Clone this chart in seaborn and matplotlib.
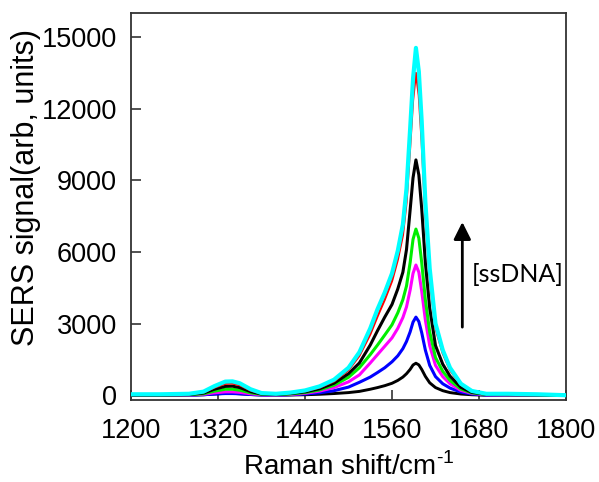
import matplotlib
matplotlib.use("Agg")
import matplotlib.pyplot as plt
import seaborn as sns
import pandas as pd

# Raman shift axis (cm^-1) at which the spectra are tabulated
shift = [1200, 1240, 1280, 1300, 1315, 1330, 1340, 1350, 1365, 1380,
         1400, 1420, 1440, 1460, 1480, 1500, 1515, 1530, 1540, 1550,
         1560, 1568, 1575, 1580, 1585, 1589, 1593, 1597, 1601, 1606,
         1612, 1620, 1630, 1640, 1655, 1670, 1690, 1720, 1760, 1800]

# SERS spectra for increasing ssDNA concentration (lowest first)
spec_1 = [0, 0, 0, 20, 50, 80, 80, 60, 30, 10,
          0, 10, 20, 40, 70, 110, 160, 250, 320, 400,
          500, 620, 760, 900, 1080, 1265, 1340, 1270, 1080, 790,
          520, 320, 190, 110, 50, 20, 0, 0, 0, -10]
spec_2 = [0, 0, 5, 20, 50, 70, 70, 60, 30, 10,
          5, 20, 50, 100, 190, 340, 540, 760, 950, 1150,
          1400, 1650, 1950, 2250, 2650, 3060, 3270, 3085, 2615, 1890,
          1250, 780, 480, 300, 130, 50, 10, 5, 5, -10]
spec_3 = [0, 0, 10, 40, 100, 140, 140, 120, 60, 20,
          10, 30, 80, 170, 320, 560, 850, 1350, 1700, 2050,
          2400, 2800, 3250, 3700, 4400, 5100, 5450, 5150, 4350, 3150,
          2075, 1250, 780, 480, 200, 80, 20, 10, 10, -10]
spec_4 = [10, 10, 20, 60, 170, 250, 250, 210, 100, 40,
          20, 50, 110, 220, 420, 750, 1150, 1700, 2100, 2520,
          2950, 3450, 4000, 4575, 5550, 6525, 6955, 6575, 5550, 4000,
          2650, 1580, 1000, 620, 260, 100, 30, 20, 15, -10]
spec_5 = [10, 10, 30, 90, 250, 370, 380, 320, 150, 50,
          30, 70, 140, 270, 500, 900, 1350, 2100, 2700, 3270,
          3800, 4450, 5150, 6100, 7750, 9100, 9850, 9225, 7800, 5550,
          3650, 2080, 1300, 800, 330, 120, 40, 30, 20, -10]
spec_6 = [20, 20, 40, 120, 320, 480, 490, 420, 200, 70,
          40, 90, 170, 320, 580, 1050, 1650, 2550, 3300, 4000,
          4780, 5675, 6700, 8075, 10400, 12350, 13490, 12550, 10600, 7500,
          4900, 2800, 1750, 1050, 440, 160, 50, 40, 30, -10]
spec_7 = [40, 40, 60, 150, 380, 570, 580, 500, 250, 90,
          60, 110, 200, 370, 650, 1150, 1800, 2800, 3600, 4300,
          5100, 6050, 7150, 8650, 11150, 13250, 14540, 13550, 11450, 8100,
          5300, 3000, 1890, 1150, 480, 180, 60, 60, 40, 0]

series = [spec_1, spec_2, spec_3, spec_4, spec_5, spec_6, spec_7]
colors = ["#000000", "#0000ff", "#ff00ff", "#00ee00", "#000000", "#ff0000", "#00ffff"]
widths = [2.1, 2.2, 2.2, 2.2, 2.2, 1.6, 3.0]

x_ticks = [1200, 1320, 1440, 1560, 1680, 1800]
y_ticks = [0, 3000, 6000, 9000, 12000, 15000]

sns.set_style("white")
plt.rcParams["font.family"] = ["Liberation Sans", "DejaVu Sans"]
plt.rcParams["mathtext.fontset"] = "custom"
plt.rcParams["mathtext.rm"] = "Liberation Sans"
plt.rcParams["text.color"] = "black"
plt.rcParams["axes.labelcolor"] = "black"

fig = plt.figure(figsize=(5.99, 4.82), dpi=100)
ax = fig.add_axes([131 / 599, 1 - 400 / 482, 435 / 599, 387 / 482])

for i, (vals, col, lw) in enumerate(zip(series, colors, widths)):
    df = pd.DataFrame({"shift": shift, "signal": vals})
    sns.lineplot(data=df, x="shift", y="signal", color=col, linewidth=lw,
                 ax=ax, zorder=2 + i)

ax.set_xlim(1200, 1800)
ax.set_ylim(-200, 16000)
ax.set_xticks(x_ticks)
ax.set_yticks(y_ticks)
ax.set_xticklabels([str(t) for t in x_ticks])
ax.set_yticklabels([str(t) for t in y_ticks])
ax.tick_params(axis="both", direction="in", length=7, width=1.2,
               color="#333333", labelcolor="black", labelsize=19.5,
               bottom=True, left=True, top=False, right=False)
ax.tick_params(axis="y", pad=10)
ax.tick_params(axis="x", pad=13)
for sp in ax.spines.values():
    sp.set_color("#333333")
    sp.set_linewidth(1.3)

ax.set_xlabel(r"Raman shift/cm$^{\text{-1}}$", fontsize=20)
ax.xaxis.set_label_coords(0.5, -0.135)
ax.set_ylabel("SERS signal(arb, units)", fontsize=22)
ax.yaxis.set_label_coords(-0.207, 0.55)

# concentration trend arrow and label
ax.annotate("", xy=(1657, 7250), xytext=(1657, 2850),
            arrowprops=dict(arrowstyle="-|>", lw=2.0, color="black",
                            mutation_scale=26, shrinkA=0, shrinkB=0))
ax.text(1670, 5050, "[ssDNA]", fontsize=18, family=["Lato", "DejaVu Sans"],
        va="center", ha="left")

fig.savefig("out.png", dpi=100)
